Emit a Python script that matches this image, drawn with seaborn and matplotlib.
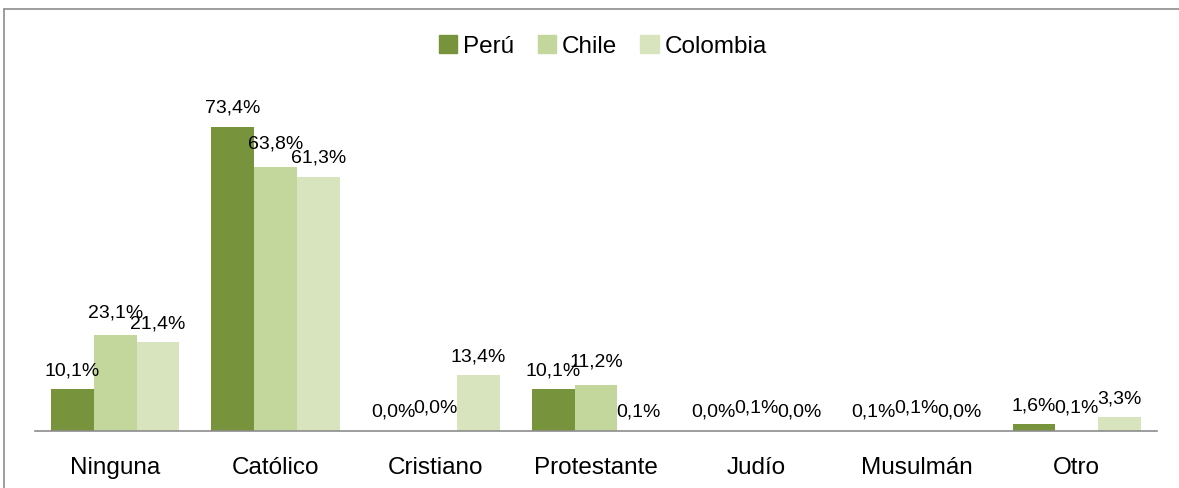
import numpy as np
import pandas as pd
import matplotlib.pyplot as plt
import seaborn as sns
from matplotlib.lines import Line2D

# datos (% por religion)
categorias = ['Ninguna', 'Católico', 'Cristiano', 'Protestante', 'Judío', 'Musulmán', 'Otro']
paises = ['Perú', 'Chile', 'Colombia']
peru = [10.1, 73.4, 0.0, 10.1, 0.0, 0.1, 1.6]
chile = [23.1, 63.8, 0.0, 11.2, 0.1, 0.1, 0.1]
colombia = [21.4, 61.3, 13.4, 0.1, 0.0, 0.0, 3.3]

colores = ['#77933C', '#C3D69B', '#D7E4BD']

df = pd.DataFrame({
    'religion': categorias * 3,
    'pais': [p for p in paises for _ in categorias],
    'valor': peru + chile + colombia,
})

sns.set_style('white')
plt.rcParams['font.family'] = ['Liberation Sans', 'DejaVu Sans']
plt.rcParams['text.color'] = 'black'
plt.rcParams['xtick.color'] = 'black'

fig = plt.figure(figsize=(11.79, 4.89), dpi=100)
ax = fig.add_axes([35 / 1179, 1 - 432 / 489, 1122 / 1179, (432 - 100.6) / 489])

sns.barplot(data=df, x='religion', y='valor', hue='pais', order=categorias,
            hue_order=paises, palette=colores, width=0.8, saturation=1,
            linewidth=0, ax=ax, legend=False)

# padding distinto por serie, como en el original (etiquetas algo desplazadas)
for cont, vals, pad in zip(ax.containers, [peru, chile, colombia], [8, 11, 8]):
    ax.bar_label(cont, labels=[f'{v:.1f}%'.replace('.', ',') for v in vals],
                 padding=pad, fontsize=14, color='black')

ax.set_xlim(-0.5, 6.5)
ax.set_ylim(0, 80)
ax.set_xlabel('')
ax.set_ylabel('')
ax.set_yticks([])
ax.tick_params(axis='x', length=0, pad=18, labelsize=17.5, labelcolor='black')
for s in ['top', 'right', 'left']:
    ax.spines[s].set_visible(False)
ax.spines['bottom'].set_color('#8c8c8c')
ax.spines['bottom'].set_linewidth(1.2)

# leyenda arriba, cuadrados
handles = [plt.Rectangle((0, 0), 1, 1, color=c) for c in colores]
fig.legend(handles, paises, loc='center', bbox_to_anchor=(603 / 1179, 1 - 47 / 489),
           ncol=3, frameon=False, fontsize=17.5, handlelength=0.75,
           handleheight=0.75, handletextpad=0.25, columnspacing=0.95)

# marco del grafico (recortado)
fig.add_artist(Line2D([4 / 1179, 1], [1 - 10 / 489, 1 - 10 / 489],
                      transform=fig.transFigure, color='#8c8c8c', lw=1.2))
fig.add_artist(Line2D([4 / 1179, 4 / 1179], [0, 1 - 10 / 489],
                      transform=fig.transFigure, color='#8c8c8c', lw=1.2))

plt.savefig('out.png', dpi=100)
